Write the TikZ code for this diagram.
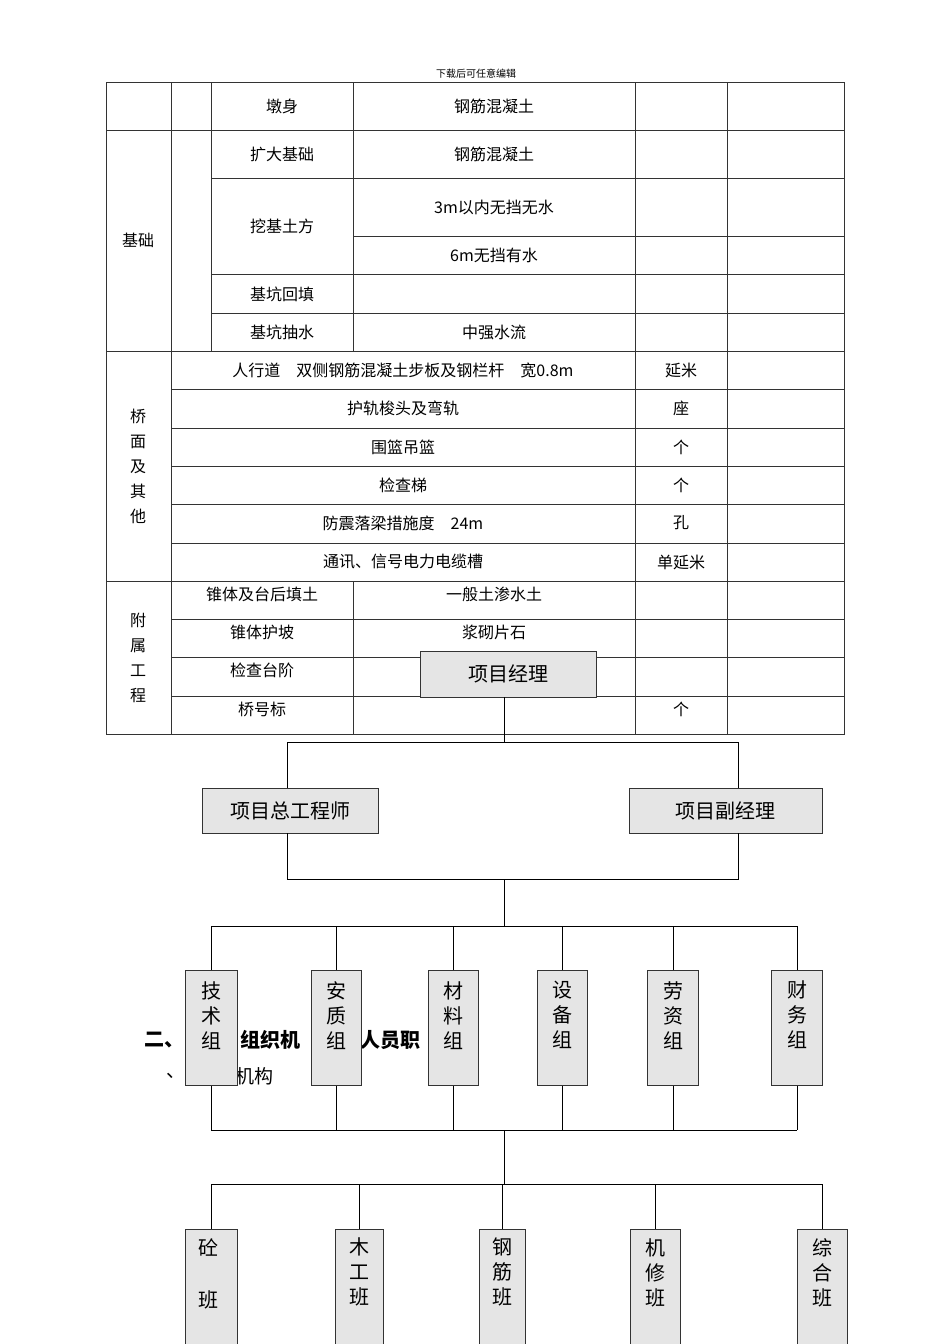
\documentclass[tikz,border=0pt]{standalone}
\usepackage{fontspec}
\newfontfamily\cjk{Noto Sans CJK SC}
\begin{document}
\begin{tikzpicture}[x=1pt,y=-1pt,
  tl/.style={draw=black!80,line width=0.8pt},
  t/.style={font=\cjk\fontsize{16}{18}\selectfont,inner sep=0pt},
  gbox/.style={draw=black!80,fill=black!10,line width=0.9pt,inner sep=0pt},
  bt/.style={font=\cjk\fontsize{20}{22}\selectfont},
  vt/.style={font=\cjk\fontsize{20}{25}\selectfont,align=center,anchor=north,inner sep=0pt},
  ln/.style={draw=black,line width=0.7pt}]
\useasboundingbox (0,0) rectangle (950,1344);
\fill[white] (0,0) rectangle (950,1344);
\node[font=\cjk\fontsize{10}{12}\selectfont] (hdr) at (476,74) {下载后可任意编辑};
% background heading text (behind boxes)
\node[font=\cjk\bfseries\fontsize{20}{22}\selectfont,anchor=west,inner sep=0pt] (h1) at (144,1040) {二、};
\node[font=\cjk\bfseries\fontsize{20}{22}\selectfont,anchor=west,inner sep=0pt] (h2) at (240,1040) {组织机};
\node[font=\cjk\bfseries\fontsize{20}{22}\selectfont,anchor=west,inner sep=0pt] (h3) at (360,1040) {人员职};
\node[font=\cjk\fontsize{19}{22}\selectfont,anchor=west,inner sep=0pt] (h4) at (166,1076) {、};
\node[font=\cjk\fontsize{19}{22}\selectfont,anchor=west,inner sep=0pt] (h5) at (235,1076) {机构};
% table
\draw[tl] (106,82) rectangle (844,734);
\foreach \y in {130,351,581} \draw[tl] (106,\y) -- (844,\y);
\foreach \y in {178,274,313} \draw[tl] (211,\y) -- (844,\y);
\draw[tl] (353,236) -- (844,236);
\foreach \y in {389,428,466,504,543} \draw[tl] (171,\y) -- (844,\y);
\foreach \y in {619,657,696} \draw[tl] (171,\y) -- (844,\y);
\draw[tl] (171,82) -- (171,734);
\draw[tl] (211,82) -- (211,351);
\draw[tl] (353,82) -- (353,351);
\draw[tl] (353,581) -- (353,734);
\foreach \x in {635,727} \draw[tl] (\x,82) -- (\x,734);
\node[t] (a1) at (282,106) {墩身};
\node[t] (a2) at (494,106) {钢筋混凝土};
\node[t] (b0) at (138,240) {基\\[4pt]础};
\node[t,align=center] (b0x) at (138,240) {};
\node[t] (b1) at (282,154) {扩大基础};
\node[t] (b2) at (494,154) {钢筋混凝土};
\node[t] (b3) at (282,226) {挖基土方};
\node[t] (b4) at (494,207) {3m以内无挡无水};
\node[t] (b5) at (494,255) {6m无挡有水};
\node[t] (b6) at (282,294) {基坑回填};
\node[t] (b7) at (282,332) {基坑抽水};
\node[t] (b8) at (494,332) {中强水流};
\node[t,align=center,font=\cjk\fontsize{16}{25}\selectfont] (c0) at (138,466) {桥\\面\\及\\其\\他};
\node[t] (c1) at (403,370) {人行道\quad 双侧钢筋混凝土步板及钢栏杆\quad 宽0.8m};
\node[t] (c1u) at (681,370) {延米};
\node[t] (c2) at (403,408) {护轨梭头及弯轨};
\node[t] (c2u) at (681,408) {座};
\node[t] (c3) at (403,447) {围篮吊篮};
\node[t] (c3u) at (681,447) {个};
\node[t] (c4) at (403,485) {检查梯};
\node[t] (c4u) at (681,485) {个};
\node[t] (c5) at (403,523) {防震落梁措施度\quad 24m};
\node[t] (c5u) at (681,523) {孔};
\node[t] (c6) at (403,562) {通讯、信号电力电缆槽};
\node[t] (c6u) at (681,562) {单延米};
\node[t,align=center,font=\cjk\fontsize{16}{25}\selectfont] (d0) at (138,658) {附\\属\\工\\程};
\node[t] (d1) at (262,594) {锥体及台后填土};
\node[t] (d1b) at (494,594) {一般土渗水土};
\node[t] (d2) at (262,632) {锥体护坡};
\node[t] (d2b) at (494,632) {浆砌片石};
\node[t] (d3) at (262,670) {检查台阶};
\node[t] (d4) at (262,709) {桥号标};
\node[t] (d4u) at (681,709) {个};
% org chart
\node[gbox,minimum width=176pt,minimum height=46pt,bt] (pm) at (508,674) {项目经理};
\node[gbox,minimum width=176pt,minimum height=45pt,bt] (ce) at (290,810.5) {项目总工程师};
\node[gbox,minimum width=193pt,minimum height=45pt,bt] (dm) at (725.5,810.5) {项目副经理};
\coordinate (j1) at (504,742);
\coordinate (j2) at (504,879);
\coordinate (j3) at (504,926);
\coordinate (j4) at (504,1130);
\coordinate (j5) at (504,1184);
\draw[ln] (504,697) -- (j1);
\draw[ln] (287,742) -- (738,742);
\draw[ln] (287,742) -- (287,788);
\draw[ln] (738,742) -- (738,788);
\draw[ln] (287,833) -- (287,879) -- (738,879) -- (738,833);
\draw[ln] (j2) -- (j3);
\draw[ln] (211,926) -- (797,926);
\draw[ln] (211,1130) -- (797,1130);
\draw[ln] (j4) -- (j5);
\draw[ln] (211,1184) -- (822,1184);
\foreach \n/\x/\w/\a/\b/\c in {g1/211/52/技/术/组, g2/336/50/安/质/组, g3/453/50/材/料/组, g4/562/50/设/备/组, g5/673/51/劳/资/组, g6/797/51/财/务/组}{
  \draw[ln] (\x,926) -- (\x,1130);
  \node[gbox,minimum width=\w pt,minimum height=115pt] (\n) at (\x,1027.5) {};
  \node[vt] (\n t) at (\x,981) {\a\\\b\\\c};
}
\foreach \n/\x/\w/\a/\b/\c in {k2/359/48/木/工/班, k3/502/46/钢/筋/班, k4/655/50/机/修/班, k5/822/50/综/合/班}{
  \draw[ln] (\x,1184) -- (\x,1229);
  \node[gbox,minimum width=\w pt,minimum height=120pt,anchor=north] (\n) at (\x,1229) {};
  \node[vt] (\n t) at (\x,1238) {\a\\\b\\\c};
}
\draw[ln] (211,1184) -- (211,1229);
\node[gbox,minimum width=52pt,minimum height=120pt,anchor=north] (k1) at (211,1229) {};
\node[vt,font=\cjk\fontsize{20}{52}\selectfont] (k1t) at (208,1238) {砼\\班};
\end{tikzpicture}
\end{document}
